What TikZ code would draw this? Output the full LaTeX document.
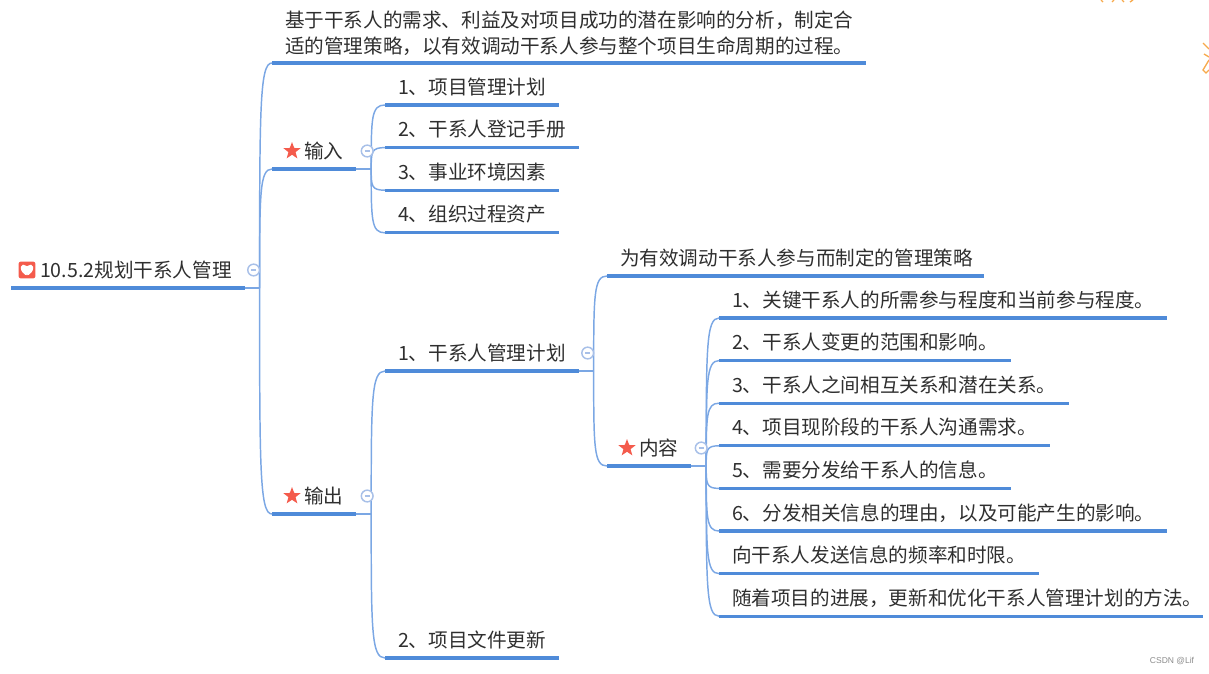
\documentclass[tikz,border=0pt]{standalone}
\usepackage{fontspec}
\setmainfont{Noto Sans CJK SC}
\newfontfamily\markfont{Liberation Sans}
\usepackage{xcolor}
\usetikzlibrary{positioning,calc,shapes.geometric}
\definecolor{linemain}{HTML}{4F8BD9}
\definecolor{linethin}{HTML}{7BA7E4}
\definecolor{ringblue}{HTML}{A8C0E8}
\definecolor{redmark}{HTML}{F45B4C}
\definecolor{inkgrey}{HTML}{2F2F2F}
\definecolor{scraporange}{HTML}{F7A94B}
\tikzset{
    topic/.style={inner xsep=9.75pt, inner ysep=0pt, outer sep=0pt, text height=23.7pt, text depth=8.25pt,
        text=inkgrey, font=\fontsize{14.7pt}{19.5pt}\selectfont,
        append after command={(\tikzlastnode.south west) edge[mainline] (\tikzlastnode.south east)}},
    mainline/.style={draw=linemain, line width=2.3pt},
    stalk/.style={draw=linethin, line width=1.1pt},
    branch/.style={draw=linethin, line width=1.1pt,
        to path={.. controls ($(\tikztostart)!0.8!(\tikztostart|-\tikztotarget)$) and (\tikztostart|-\tikztotarget) .. (\tikztotarget)}},
    collapse/.style={shape=circle, draw=ringblue, line width=1.1pt, fill=white, minimum size=8.8pt, inner sep=0pt,
        path picture={\draw[ringblue, line width=0.9pt] ($(path picture bounding box.center)+(-2.6,0)$) -- ($(path picture bounding box.center)+(2.6,0)$);}},
    starmark/.style={shape=star, star points=5, star point ratio=2.4, fill=redmark, minimum size=13.5pt, inner sep=0pt},
    heartmark/.style={shape=rectangle, rounded corners=1.5pt, fill=redmark, minimum size=12.5pt, inner sep=0pt,
        path picture={\fill[white, shift={(path picture bounding box.center)}] (0,6) .. controls (-10,-1) and (-5,-8) .. (0,-3) .. controls (5,-8) and (10,-1) .. (0,6) -- cycle;}},
}
\begin{document}
\begin{tikzpicture}[x=0.75pt, y=-0.75pt]
    \useasboundingbox (0,0) rectangle (1209,674);

    \node[topic, anchor=south west] (root) at (11,288) {\hspace*{12pt}10.5.2规划干系人管理};
    \node[topic, anchor=south west, text height=0pt, text depth=0pt, inner ysep=7.2pt, align=left] (desc) at (272,63) {基于干系人的需求、利益及对项目成功的潜在影响的分析，制定合\\适的管理策略，以有效调动干系人参与整个项目生命周期的过程。};
    \node[topic, anchor=south west] (inp) at (272,169) {\hspace*{14.25pt}输入};
    \node[topic, anchor=south west] (outp) at (272,514) {\hspace*{14.25pt}输出};

    \node[topic, anchor=south west] (inp1) at (385,105) {1、项目管理计划};
    \node[topic, below=0pt of inp1.south west, anchor=north west] (inp2) {2、干系人登记手册};
    \node[topic, below=0pt of inp2.south west, anchor=north west] (inp3) {3、事业环境因素};
    \node[topic, below=0pt of inp3.south west, anchor=north west] (inp4) {4、组织过程资产};

    \node[topic, anchor=south west] (plan) at (385,371) {1、干系人管理计划};
    \node[topic, anchor=south west] (docs) at (385,658) {2、项目文件更新};

    \node[topic, anchor=south west] (goal) at (607,276) {为有效调动干系人参与而制定的管理策略\hspace*{-1.5pt}};
    \node[topic, anchor=south west] (cont) at (607,466) {\hspace*{14.25pt}内容};

    \node[topic, anchor=south west] (k1) at (719,318) {1、关键干系人的所需参与程度和当前参与程度。};
    \node[topic, below=0pt of k1.south west, anchor=north west] (k2) {2、干系人变更的范围和影响。};
    \node[topic, below=0pt of k2.south west, anchor=north west] (k3) {3、干系人之间相互关系和潜在关系。};
    \node[topic, below=0pt of k3.south west, anchor=north west] (k4) {4、项目现阶段的干系人沟通需求。};
    \node[topic, below=0pt of k4.south west, anchor=north west] (k5) {5、需要分发给干系人的信息。};
    \node[topic, below=0pt of k5.south west, anchor=north west] (k6) {6、分发相关信息的理由，以及可能产生的影响。};
    \node[topic, below=0pt of k6.south west, anchor=north west] (k7) {向干系人发送信息的频率和时限。};
    \node[topic, below=0pt of k7.south west, anchor=north west] (k8) {随着项目的进展，更新和优化干系人管理计划的方法。\hspace*{-9.5pt}};

    % hubs
    \coordinate[right=11.25pt of root.south east] (hroot);
    \coordinate[right=11.25pt of inp.south east] (hinp);
    \coordinate[right=11.25pt of outp.south east] (houtp);
    \coordinate[right=11.25pt of plan.south east] (hplan);
    \coordinate[right=11.25pt of cont.south east] (hcont);

    \draw[stalk] (root.south east) -- (hroot);
    \draw[stalk] (inp.south east) -- (hinp);
    \draw[stalk] (outp.south east) -- (houtp);
    \draw[stalk] (plan.south east) -- (hplan);
    \draw[stalk] (cont.south east) -- (hcont);

    \draw[branch] (hroot) to (desc.south west);
    \draw[branch] (hroot) to (inp.south west);
    \draw[branch] (hroot) to (outp.south west);
    \draw[branch] (hinp) to (inp1.south west);
    \draw[branch] (hinp) to (inp2.south west);
    \draw[branch] (hinp) to (inp3.south west);
    \draw[branch] (hinp) to (inp4.south west);
    \draw[branch] (houtp) to (plan.south west);
    \draw[branch] (houtp) to (docs.south west);
    \draw[branch] (hplan) to (goal.south west);
    \draw[branch] (hplan) to (cont.south west);
    \draw[branch] (hcont) to (k1.south west);
    \draw[branch] (hcont) to (k2.south west);
    \draw[branch] (hcont) to (k3.south west);
    \draw[branch] (hcont) to (k4.south west);
    \draw[branch] (hcont) to (k5.south west);
    \draw[branch] (hcont) to (k6.south west);
    \draw[branch] (hcont) to (k7.south west);
    \draw[branch] (hcont) to (k8.south west);

    \node[heartmark] (mroot) at ($(root.south west)+(16,-18)$) {};
    \node[starmark] (minp) at ($(inp.south west)+(20,-18)$) {};
    \node[starmark] (moutp) at ($(outp.south west)+(20,-18)$) {};
    \node[starmark] (mcont) at ($(cont.south west)+(20,-18)$) {};

    \node[collapse] (croot) at ($(root.south east)+(9,-18)$) {};
    \node[collapse] (cinp) at ($(inp.south east)+(11,-18)$) {};
    \node[collapse] (coutp) at ($(outp.south east)+(11,-18)$) {};
    \node[collapse] (cplan) at ($(plan.south east)+(9,-18)$) {};
    \node[collapse] (ccont) at ($(cont.south east)+(10,-18)$) {};

    % scraps at the page edge
    \draw[scraporange, line width=1pt] (1101,0) -- (1103,2) (1112,2) -- (1114,0) (1122,0) -- (1124,2) (1130,2) -- (1133,0);
    \draw[scraporange, line width=1pt] (1203,43) -- (1209,49) (1204,54) -- (1209,57) (1209,60) -- (1203,70) -- (1206,73) -- (1209,70);

    \node[font=\markfont\fontsize{6.4pt}{8pt}\selectfont, text=black!45, inner sep=0pt] (mark) at (1172,661) {CSDN @Lif};
\end{tikzpicture}
\end{document}
